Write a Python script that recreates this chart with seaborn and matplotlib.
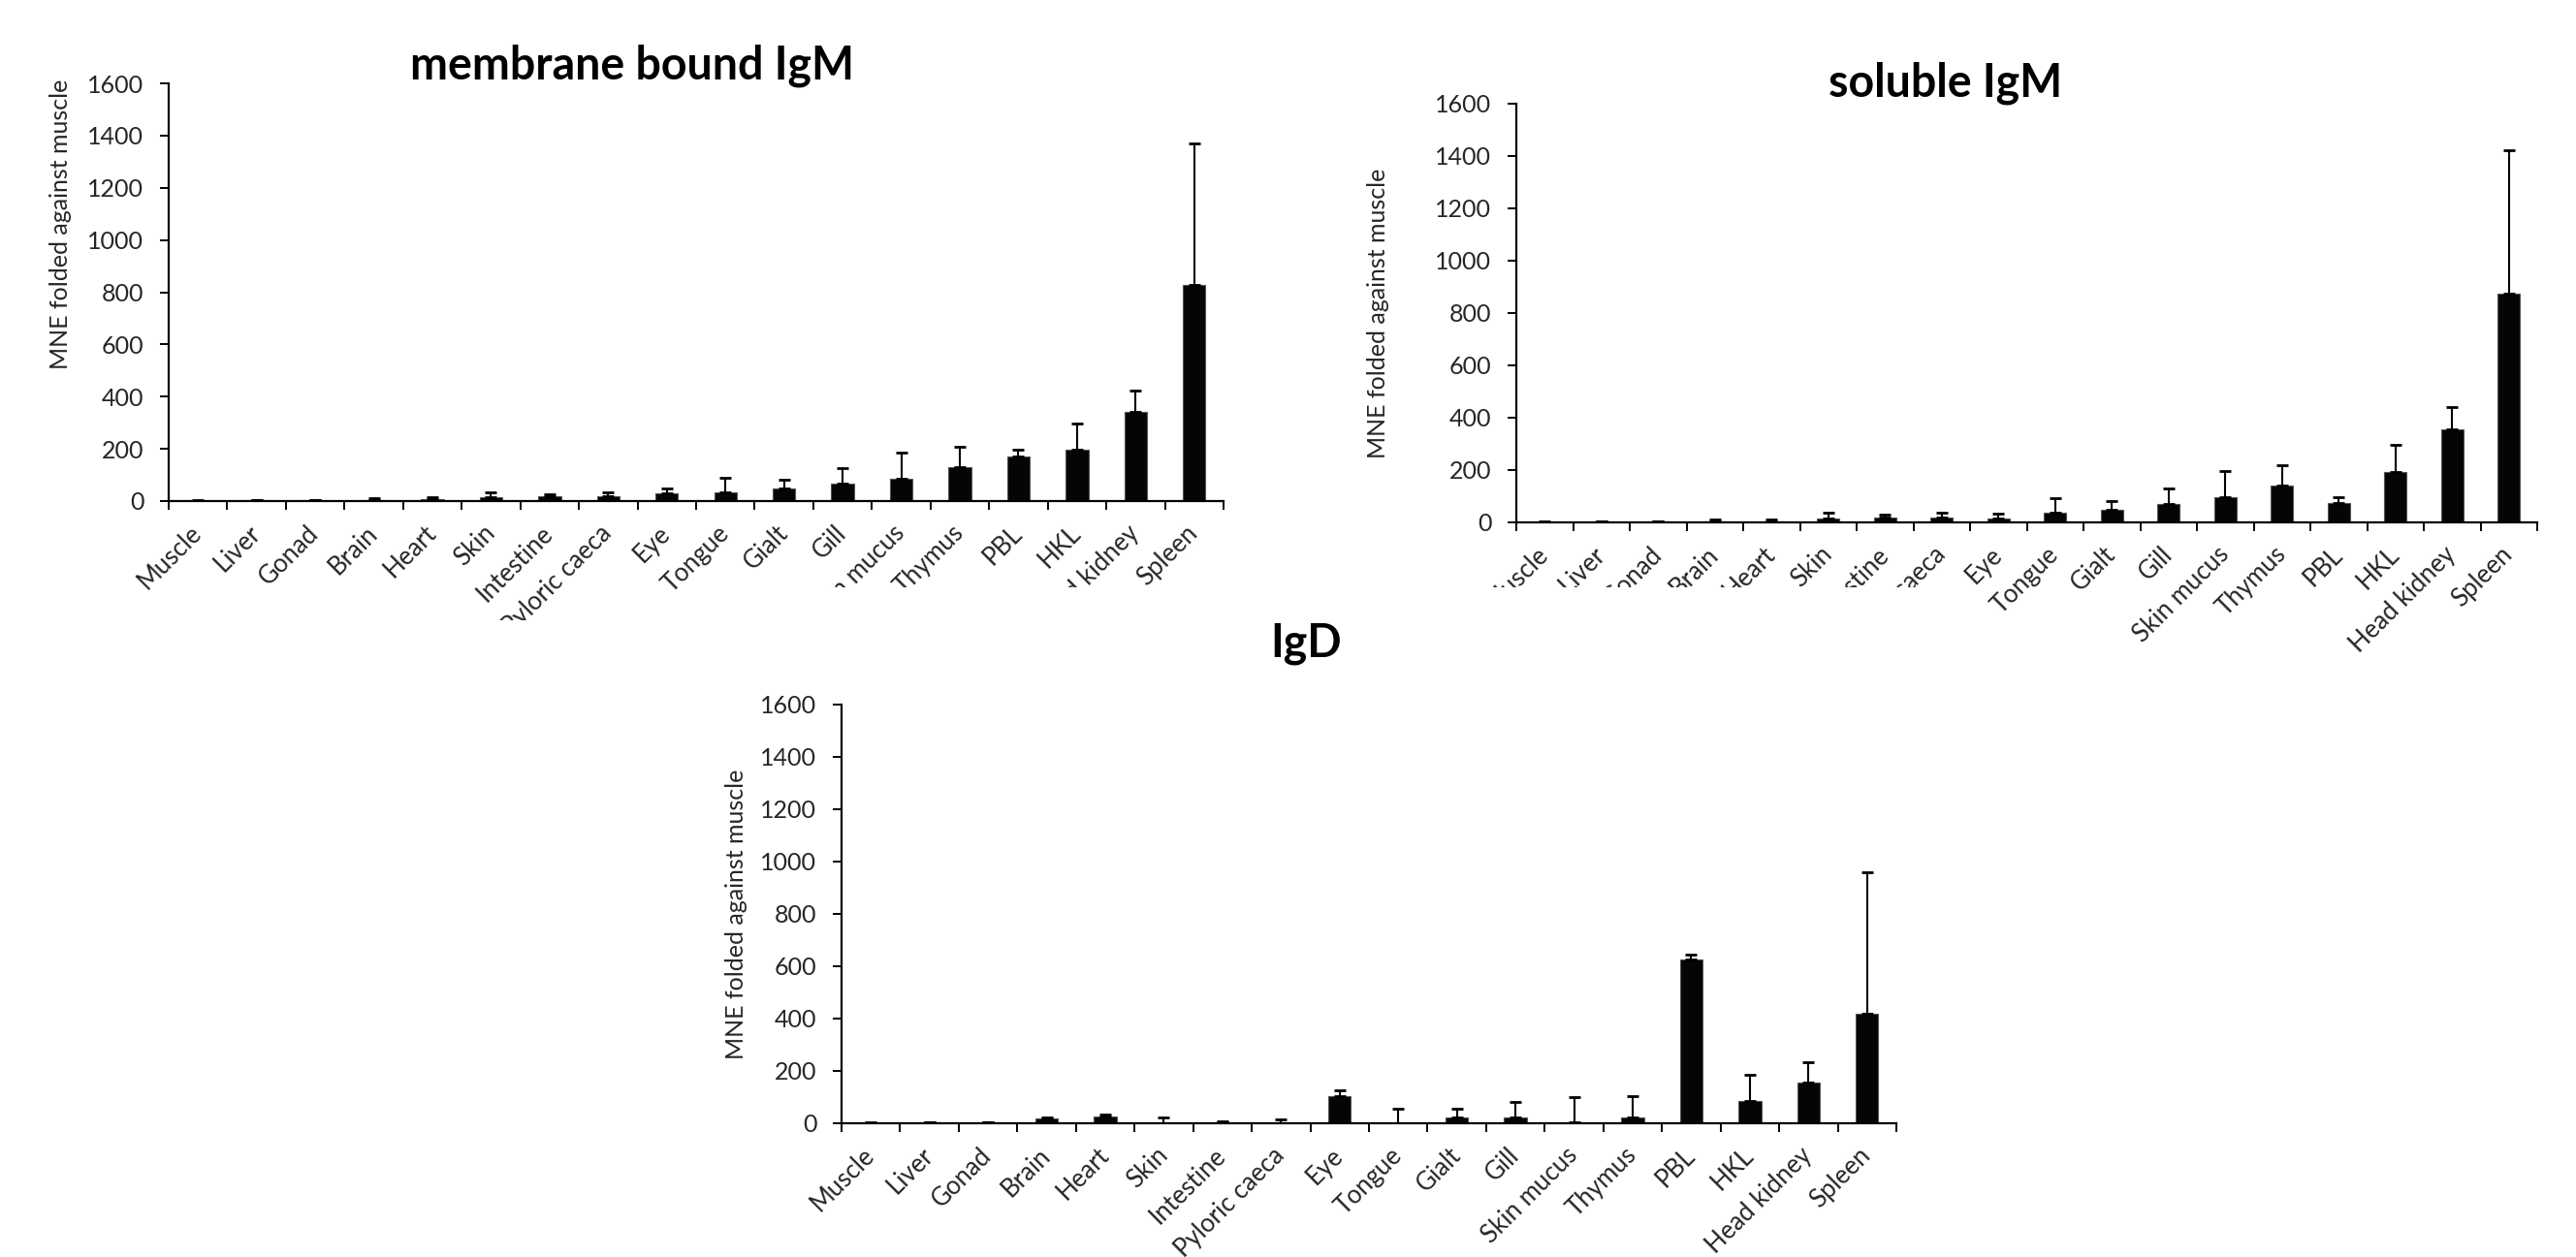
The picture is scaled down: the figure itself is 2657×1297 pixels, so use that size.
import numpy as np
import pandas as pd
import matplotlib
matplotlib.use("Agg")
import matplotlib.pyplot as plt
import seaborn as sns
from matplotlib.patches import Rectangle

# ---------------- data ----------------
tissues = ["Muscle", "Liver", "Gonad", "Brain", "Heart", "Skin", "Intestine",
           "Pyloric caeca", "Eye", "Tongue", "Gialt", "Gill", "Skin mucus",
           "Thymus", "PBL", "HKL", "Head kidney", "Spleen"]

mbigm_mean = [1, 2, 2, 5, 8, 15, 17, 18, 30, 35, 48, 68, 86, 130, 171, 195, 342, 826]
mbigm_err = [1, 1, 3, 7, 7, 20, 10, 14, 17, 53, 32, 57, 98, 79, 24, 103, 82, 545]

sigm_mean = [1, 2, 3, 3, 5, 15, 18, 20, 16, 37, 48, 72, 98, 141, 74, 194, 355, 874]
sigm_err = [1, 1, 2, 7, 6, 21, 10, 16, 19, 54, 34, 58, 98, 77, 21, 103, 84, 548]

igd_mean = [1, 3, 3, 17, 27, 1, 2, 1, 105, 1, 21, 22, 3, 22, 625, 85, 155, 419]
igd_err = [1, 1, 1, 6, 5, 20, 7, 15, 20, 53, 33, 58, 96, 80, 19, 101, 78, 542]

titles = ["membrane bound IgM", "soluble IgM", "IgD"]
ylabel = "MNE folded against muscle"
yticks = [0, 200, 400, 600, 800, 1000, 1200, 1400, 1600]

# ---------------- style ----------------
sns.set_theme(style="white")
plt.rcParams["font.family"] = ["Lato", "DejaVu Sans"]

W, H = 2657, 1297
fig = plt.figure(figsize=(W / 100, H / 100), dpi=100)

# axes boxes in pixels: left, right, top(y from top), bottom(y from top)
boxes = [
    (174, 1262, 86, 517),
    (1564, 2617, 107, 539),
    (868, 1956, 727, 1159),
]
ylabel_pos = [(-0.092, 0.664), (-0.124, 0.5), (-0.089, 0.5)]
title_pos = [(652, 82), (2007, 100), (1347, 677)]

series = [(mbigm_mean, mbigm_err), (sigm_mean, sigm_err), (igd_mean, igd_err)]

for i, ((l, r, t, b), (means, errs)) in enumerate(zip(boxes, series)):
    ax = fig.add_axes([l / W, 1 - b / H, (r - l) / W, (b - t) / H])
    df = pd.DataFrame({"tissue": tissues, "value": means})
    sns.barplot(data=df, x="tissue", y="value", order=tissues, color="#050505",
                saturation=1, width=0.386, errorbar=None, edgecolor="#555555",
                linewidth=0.8, ax=ax, zorder=2)
    x = np.arange(len(tissues))
    ax.errorbar(x, means, yerr=[np.zeros(len(errs)), errs], fmt="none",
                ecolor="black", elinewidth=1.5, capsize=4.3, capthick=2.0,
                zorder=3)
    ax.set_xlim(-0.5, len(tissues) - 0.5)
    ax.set_ylim(0, 1600)
    ax.set_yticks(yticks)
    ax.set_yticklabels([str(v) for v in yticks], fontsize=18)
    ax.set_xticks(x)
    ax.set_xticklabels(tissues, fontsize=18.5, rotation=45, ha="right",
                       va="center", rotation_mode="anchor")
    ax.set_xticks(np.arange(-0.5, len(tissues), 1.0), minor=True)
    ax.tick_params(axis="x", which="major", length=0, pad=21)
    ax.tick_params(axis="x", which="minor", length=6.5, width=1.4,
                   direction="out", color="black", bottom=True)
    ax.tick_params(axis="y", which="major", length=6.5, width=1.4,
                   direction="out", color="black", left=True, pad=12)
    ax.set_xlabel("")
    ax.set_ylabel(ylabel, fontsize=18)
    ax.yaxis.set_label_coords(*ylabel_pos[i])
    sns.despine(ax=ax)
    for s in ["left", "bottom"]:
        ax.spines[s].set_color("black")
        ax.spines[s].set_linewidth(1.6)
    ax.set_facecolor("white")
    ax.grid(False)

    tx, ty = title_pos[i]
    fig.text(tx / W, 1 - ty / H, titles[i], ha="center", va="baseline",
             fontsize=33.5, fontweight="bold", color="black")

# in the reference the lower panel's white box overlaps the upper panels'
# tick labels, and the first panel is cropped at its lower edge
for (x0, x1, y0, y1) in [(0, 822, 640, 700), (822, 2045, 606, 700)]:
    fig.add_artist(Rectangle((x0 / W, 1 - y1 / H), (x1 - x0) / W, (y1 - y0) / H,
                             transform=fig.transFigure, facecolor="white",
                             edgecolor="none", zorder=1))

fig.savefig("out.png", dpi=100, facecolor="white")
